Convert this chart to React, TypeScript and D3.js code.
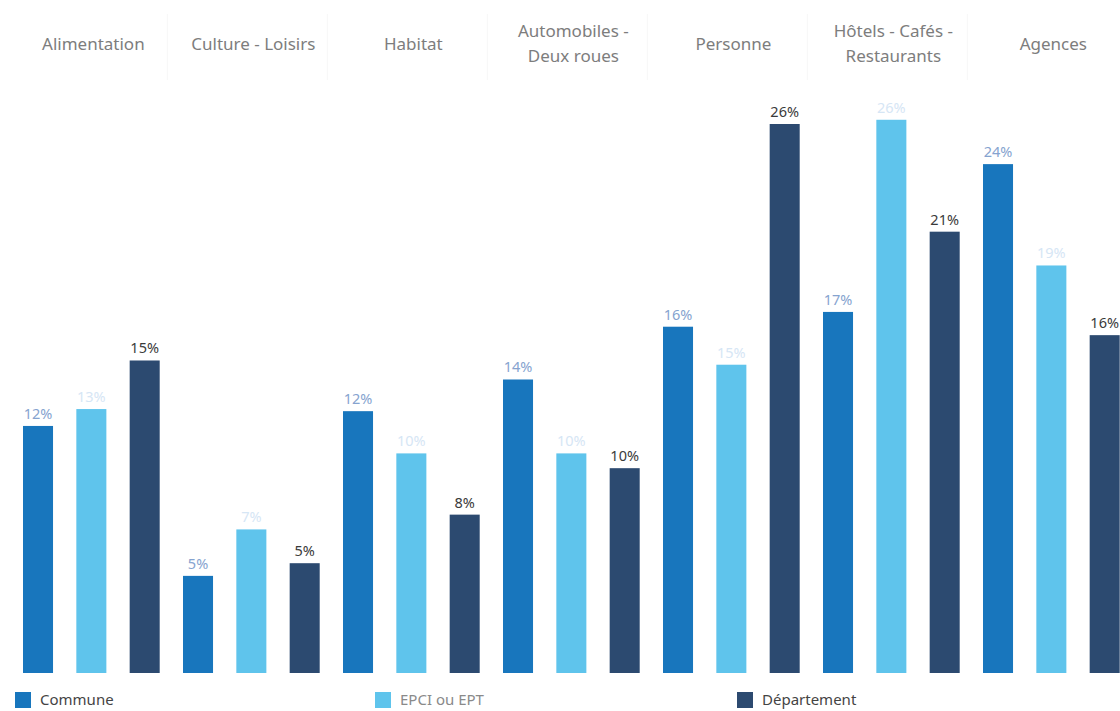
import React, { useEffect, useRef } from "react";
import * as d3 from "d3";

// data (share of shops, %)
const categories = [
  ["Alimentation"],
  ["Culture - Loisirs"],
  ["Habitat"],
  ["Automobiles -", "Deux roues"],
  ["Personne"],
  ["Hôtels -  Cafés -", "Restaurants"],
  ["Agences"],
];
const seriesNames = ["Commune", "EPCI ou EPT", "Département"];
const communeValues = [11.7, 4.6, 12.4, 13.9, 16.4, 17.1, 24.1];
const epciValues = [12.5, 6.8, 10.4, 10.4, 14.6, 26.2, 19.3];
const departementValues = [14.8, 5.2, 7.5, 9.7, 26.0, 20.9, 16.0];

const barColors = ["#1876bd", "#5fc4ec", "#2c4a70"];
const labelColors = ["#86a3cf", "#d6e6f5", "#3a3a3a"];

const App = () => {
  const svgRef = useRef<SVGSVGElement>(null);

  useEffect(() => {
    const width = 1120;
    const height = 711;
    const svg = d3.select(svgRef.current);
    svg.selectAll("*").remove();

    const font = "'Noto Sans', 'Open Sans', sans-serif";
    const baseY = 673;
    const top = 124;

    const allValues = [communeValues, epciValues, departementValues];
    const keys = categories.map((c) => c.join(" "));

    // outer scale: one panel per category
    const x0 = d3.scaleBand().domain(keys).range([11.35, 11.35 + 160 * 7]).padding(0);
    // inner scale: the three series inside a panel
    const x1 = d3
      .scaleBand()
      .domain(seriesNames)
      .range([0, x0.bandwidth()])
      .paddingInner(0.437)
      .paddingOuter(0.2185);

    const y = d3.scaleLinear().domain([0, 26]).range([baseY, top]);

    svg.append("rect").attr("width", width).attr("height", height).attr("fill", "#fff");

    // faint header separators
    svg
      .append("g")
      .selectAll("line")
      .data(keys.slice(1))
      .enter()
      .append("line")
      .attr("x1", (d) => (x0(d) as number) - 4)
      .attr("x2", (d) => (x0(d) as number) - 4)
      .attr("y1", 14)
      .attr("y2", 80)
      .attr("stroke", "#f7f7f7");

    // category headers
    const headers = svg
      .append("g")
      .selectAll("text")
      .data(categories)
      .enter()
      .append("text")
      .attr("x", (d) => (x0(d.join(" ")) as number) + x0.bandwidth() / 2 + 2)
      .attr("y", (d) => (d.length === 1 ? 50 : 37))
      .attr("text-anchor", "middle")
      .attr("fill", "#7d7d7d")
      .style("font-family", font)
      .style("font-size", "17px");
    headers
      .selectAll("tspan")
      .data((d) => d)
      .enter()
      .append("tspan")
      .attr("x", function () {
        return d3.select(this.parentNode as SVGTextElement).attr("x");
      })
      .attr("dy", (d, i) => (i === 0 ? 0 : 25))
      .text((d) => d);

    // bars
    const groups = svg
      .append("g")
      .selectAll("g")
      .data(keys)
      .enter()
      .append("g")
      .attr("transform", (d) => `translate(${x0(d)},0)`);

    const cells = groups
      .selectAll("g")
      .data((d, ci) => seriesNames.map((s, si) => ({ s, si, v: allValues[si][ci] })))
      .enter()
      .append("g");

    cells
      .append("rect")
      .attr("x", (d) => x1(d.s) as number)
      .attr("y", (d) => y(d.v))
      .attr("width", x1.bandwidth())
      .attr("height", (d) => baseY - y(d.v))
      .attr("fill", (d) => barColors[d.si]);

    cells
      .append("text")
      .attr("x", (d) => (x1(d.s) as number) + x1.bandwidth() / 2)
      .attr("y", (d) => y(d.v) - 7)
      .attr("text-anchor", "middle")
      .attr("fill", (d) => labelColors[d.si])
      .style("font-family", font)
      .style("font-size", "14.5px")
      .text((d) => `${Math.round(d.v)}%`);

    // legend
    const legendX = [15, 375, 737];
    const legend = svg
      .append("g")
      .selectAll("g")
      .data(seriesNames)
      .enter()
      .append("g")
      .attr("transform", (d, i) => `translate(${legendX[i]},692)`);
    legend
      .append("rect")
      .attr("width", 16)
      .attr("height", 16)
      .attr("fill", (d, i) => barColors[i]);
    legend
      .append("text")
      .attr("x", 25)
      .attr("y", 13)
      .attr("fill", (d, i) => (i === 1 ? "#8a8a8a" : "#444"))
      .style("font-family", font)
      .style("font-size", "15px")
      .text((d) => d);
  }, []);

  return (
    <div style={{ position: "absolute", left: 0, top: 0 }}>
      <svg ref={svgRef} width={1120} height={711} style={{ display: "block" }}></svg>
    </div>
  );
};

export default App;
